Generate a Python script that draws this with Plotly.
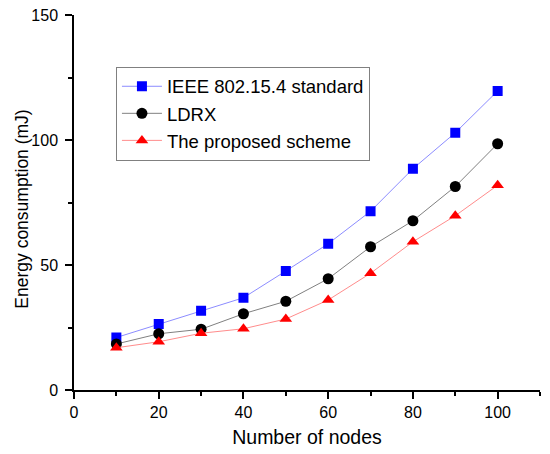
import plotly.graph_objects as go

nodes = [10, 20, 30, 40, 50, 60, 70, 80, 90, 100]
ieee = [21.0, 26.4, 31.7, 36.9, 47.6, 58.5, 71.5, 88.5, 102.9, 119.6]
ldrx = [18.4, 22.5, 24.3, 30.5, 35.5, 44.5, 57.3, 67.7, 81.4, 98.5]
proposed = [16.9, 19.3, 22.7, 24.5, 28.4, 36.0, 46.7, 59.3, 69.7, 81.9]

font = "Liberation Sans, Arial, sans-serif"

fig = go.Figure()
series = [
    ("IEEE 802.15.4 standard", ieee, "#0000ff", "#8c8cff", "square", 10),
    ("LDRX", ldrx, "#000000", "#808080", "circle", 11),
    ("The proposed scheme", proposed, "#ff0000", "#ff8c8c", "triangle-up", 11),
]
for name, vals, mcol, lcol, sym, sz in series:
    fig.add_trace(go.Scatter(x=nodes, y=vals, name=name, mode="lines+markers",
                             line=dict(color=lcol, width=1),
                             marker=dict(color=mcol, symbol=sym, size=sz)))

axis_common = dict(showline=True, linecolor="black", linewidth=1.5, ticks="outside",
                   ticklen=7, tickwidth=1.5, tickcolor="black", showgrid=False,
                   zeroline=False, automargin=False, ticklabeloverflow="allow",
                   tickfont=dict(family=font, size=16, color="black"),
                   minor=dict(ticks="outside", ticklen=4, tickwidth=1.5, tickcolor="black"))

fig.update_xaxes(range=[0, 110], tickvals=[0, 20, 40, 60, 80, 100],
                 minor_dtick=10, minor_tick0=0,
                 title=dict(text="Number of nodes", font=dict(family=font, size=19.5, color="black"),
                            standoff=10),
                 **axis_common)
fig.update_yaxes(range=[0, 150], tickvals=[0, 50, 100, 150],
                 minor_dtick=25, minor_tick0=0, ticklabelstandoff=4,
                 **axis_common)

# y title as an annotation so it sits where the reference has it
fig.add_annotation(text="Energy consumption (mJ)", textangle=-90, showarrow=False,
                   xref="paper", yref="paper", x=-0.112, y=0.483,
                   xanchor="center", yanchor="middle",
                   font=dict(family=font, size=17.5, color="black"))

# page body has an 8px margin, so shift the plot area up/left to line up with the reference
fig.update_layout(width=550, height=454, plot_bgcolor="white", paper_bgcolor="white",
                  margin=dict(l=66, r=18, t=7, b=72),
                  legend=dict(x=0.09, y=0.862, xanchor="left", yanchor="top",
                              bordercolor="#808080", borderwidth=1, bgcolor="white",
                              font=dict(family=font, size=18.5, color="black"),
                              tracegroupgap=0, itemwidth=40))

fig.write_html("out.html")
